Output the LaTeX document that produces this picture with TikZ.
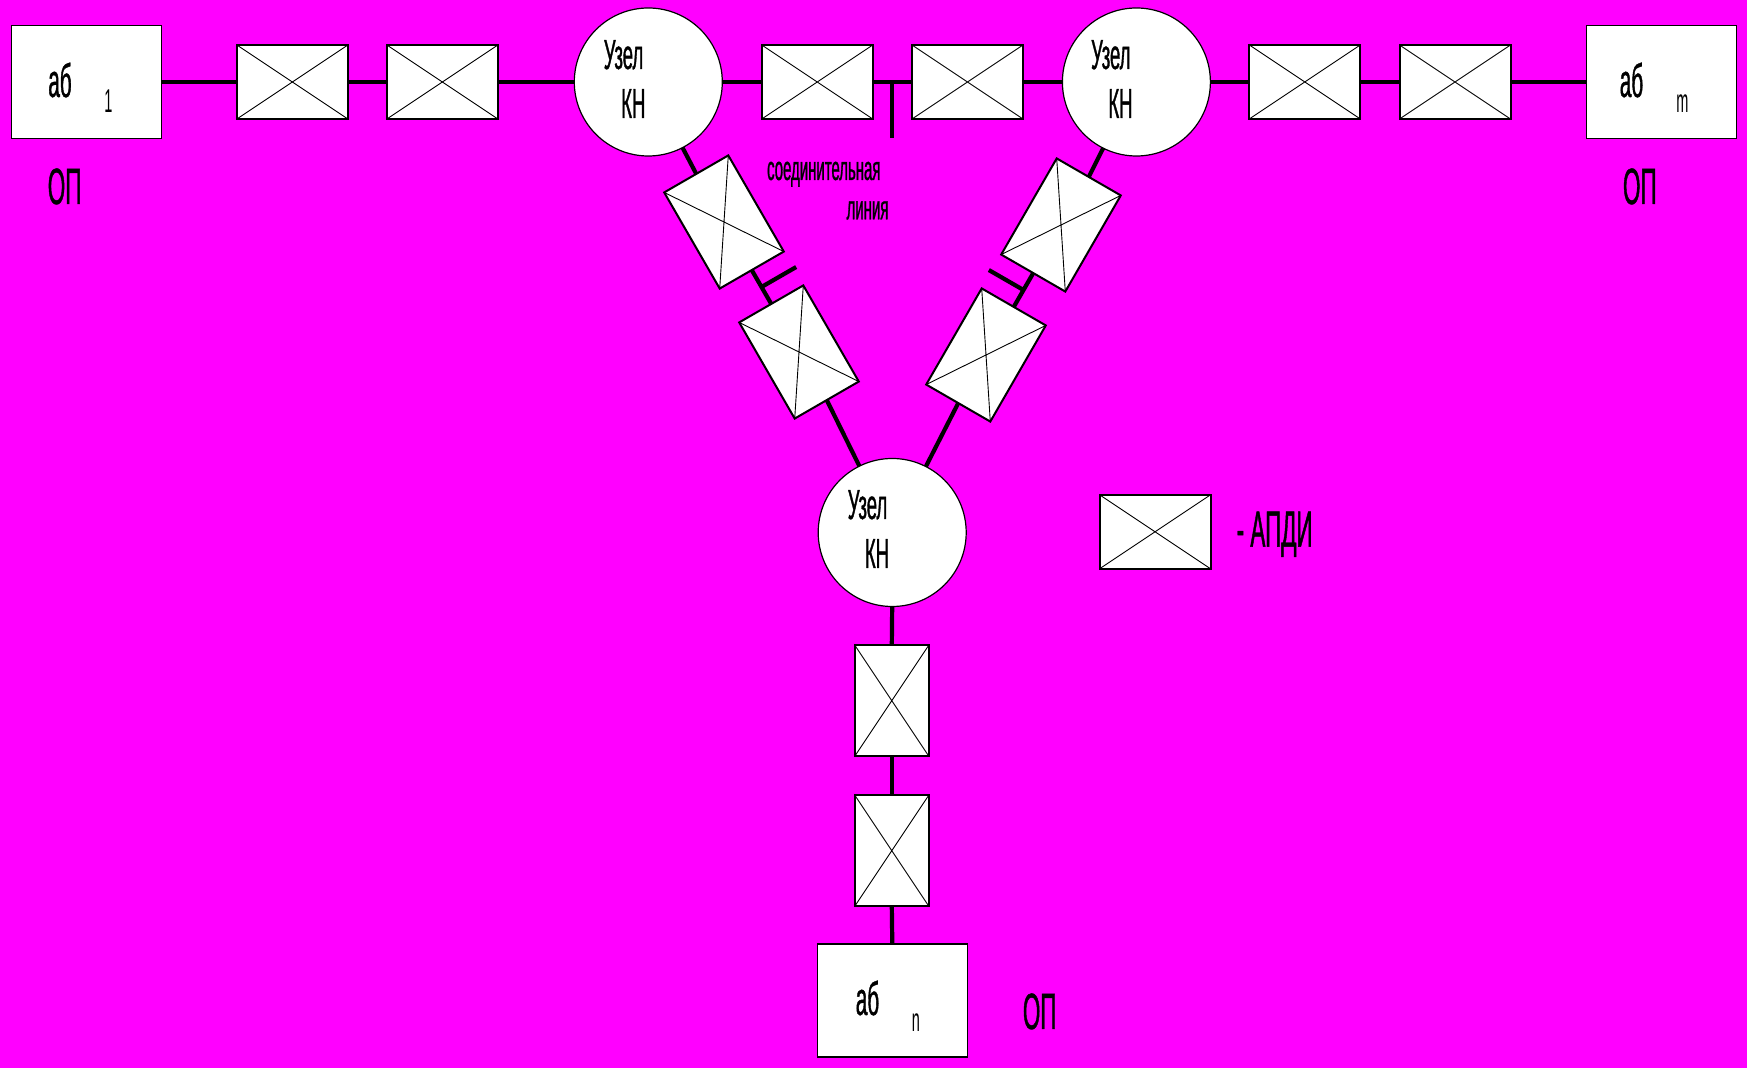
\documentclass[tikz,border=0pt]{standalone}
\usepackage{fontspec}
\usetikzlibrary{calc}
\newfontfamily\nar[FakeStretch=0.44,FakeBold=0.8]{Liberation Sans}
\newfontfamily\narthin[FakeStretch=0.44]{Liberation Sans}
\definecolor{bg}{RGB}{255,0,255}
\tikzset{
  apdi/.style={draw=black,fill=white,line width=1pt,minimum width=55.5pt,minimum height=37pt,inner sep=0pt,outer sep=0pt},
  abbox/.style={draw=black,fill=white,line width=0.8pt,minimum width=75pt,minimum height=56.5pt,inner sep=0pt,outer sep=0pt},
  uzel/.style={circle,draw=black,fill=white,line width=0.6pt,minimum size=74pt,inner sep=0pt,outer sep=0pt},
  crossline/.style={line width=0.45pt},
  wire/.style={line width=2.1pt},
  txt/.style={inner sep=0pt,outer sep=0pt,anchor=base,font=\nar\fontsize{21pt}{21pt}\selectfont},
  abtxt/.style={txt,font=\nar\fontsize{23.5pt}{23.5pt}\selectfont},
  bigtxt/.style={txt,font=\nar\fontsize{25.5pt}{25.5pt}\selectfont},
  subtxt/.style={txt,font=\narthin\fontsize{16.5pt}{16.5pt}\selectfont},
  smalltxt/.style={txt,font=\nar\fontsize{17pt}{17pt}\selectfont},
}
\begin{document}
\begin{tikzpicture}[x=0.5pt,y=-0.5pt]
\fill[bg] (0,0) rectangle (1747,1068);
\useasboundingbox (0,0) rectangle (1747,1068);

% subscriber boxes
\node[abbox] (ab1) at (86.5,82) {};
\node[abbox] (abm) at (1661.3,82) {};
\node[abbox] (abn) at (892.3,1000.8) {};

% nodes
\node[uzel] (L) at (648.3,82) {};
\node[uzel] (R) at (1136.4,82) {};
\node[uzel] (C) at (892.2,532.5) {};

% APDI boxes, horizontal
\node[apdi] (h1) at (292.4,82) {};
\node[apdi] (h2) at (442.4,82) {};
\node[apdi] (h3) at (817.2,82) {};
\node[apdi] (h4) at (967.5,82) {};
\node[apdi] (h5) at (1304.8,82) {};
\node[apdi] (h6) at (1455,82) {};
% tilted
\node[apdi,rotate=-60] (tl1) at (724,222) {};
\node[apdi,rotate=-60] (tl2) at (799,352) {};
\node[apdi,rotate=60] (tr1) at (1061,225) {};
\node[apdi,rotate=60] (tr2) at (986,355) {};
% vertical
\node[apdi,rotate=-90] (b1) at (891.8,700.7) {};
\node[apdi,rotate=-90] (b2) at (891.8,850.7) {};
% legend
\node[apdi] (lg) at (1155,531.8) {};

\foreach \b in {h1,h2,h3,h4,h5,h6,tl1,tl2,tr1,tr2,b1,b2,lg}
  \draw[crossline] (\b.north west) -- (\b.south east) (\b.north east) -- (\b.south west);

% wires
\draw[wire] (ab1.east) -- (h1.west);
\draw[wire] (h1.east) -- (h2.west);
\draw[wire] (h2.east) -- (L.west);
\draw[wire] (L.east) -- (h3.west);
\draw[wire] (h3.east) -- (h4.west);
\draw[wire] (h4.east) -- (R.west);
\draw[wire] (R.east) -- (h5.west);
\draw[wire] (h5.east) -- (h6.west);
\draw[wire] (h6.east) -- (abm.west);

\draw[wire] (L) -- (tl1.west);
\draw[wire] (tl1.east) -- (tl2.west);
\draw[wire] (tl2.east) -- (C);
\draw[wire] (R) -- (tr1.east);
\draw[wire] (tr1.west) -- (tr2.east);
\draw[wire] (tr2.west) -- (C);
\draw[wire] (C.south) -- (b1.west);
\draw[wire] (b1.east) -- (b2.west);
\draw[wire] (b2.east) -- (abn.north);

% stubs
\coordinate (m0) at ($(h3.east)!0.5!(h4.west)$);
\coordinate (m0e) at ($(m0)!27.8pt!-90:(h4.west)$);
\draw[wire] (m0) -- (m0e);
\coordinate (m1) at ($(tl1.east)!0.5!(tl2.west)$);
\coordinate (m1e) at ($(m1)!20pt!90:(tl2.west)$);
\draw[wire] (m1) -- (m1e);
\coordinate (m2) at ($(tr1.west)!0.5!(tr2.east)$);
\coordinate (m2e) at ($(m2)!20pt!-90:(tr2.east)$);
\draw[wire] (m2) -- (m2e);

% texts
\node[abtxt] (t1) at (60,97) {аб};
\node[subtxt] (t1s) at (108.5,112.7) {1};
\node[abtxt] (tm) at (1631.5,97) {аб};
\node[subtxt] (tms) at (1682.3,113) {m};
\node[abtxt] (tn) at (867.5,1015) {аб};
\node[subtxt] (tns) at (916,1031.7) {n};

\node[bigtxt] (op1) at (64.6,204) {ОП};
\node[bigtxt] (opm) at (1639.8,204) {ОП};
\node[bigtxt] (opn) at (1039.7,1029) {ОП};

\node[txt] (uL) at (623.5,69) {Узел};
\node[txt] (kL) at (633.3,118) {КН};
\node[txt] (uR) at (1110.8,69) {Узел};
\node[txt] (kR) at (1120.5,118) {КН};
\node[txt] (uC) at (867.5,519) {Узел};
\node[txt] (kC) at (877,568) {КН};

\node[smalltxt] (sl1) at (823.8,180) {соединительная};
\node[smalltxt] (sl2) at (867.5,219.3) {линия};

\node[bigtxt,anchor=base west] (lgt) at (1236.7,546.7) {- АПДИ};
\end{tikzpicture}
\end{document}
